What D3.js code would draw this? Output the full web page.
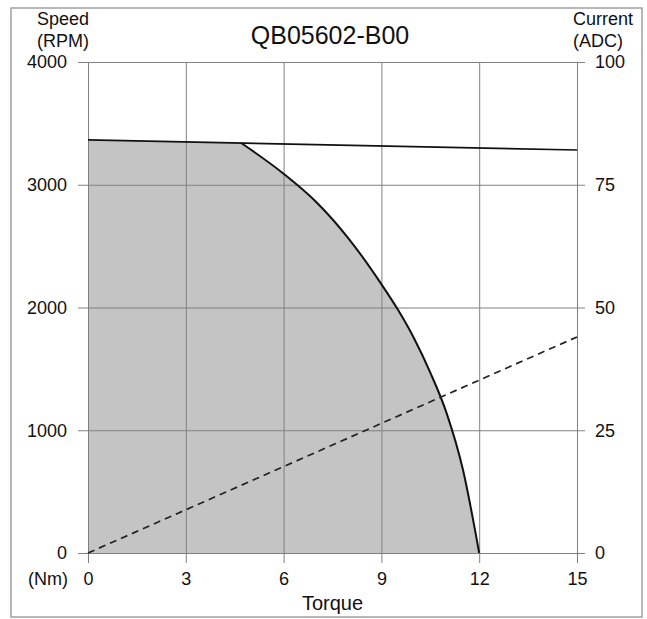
<!DOCTYPE html>
<html>
<head>
<meta charset="utf-8">
<script src="https://cdn.jsdelivr.net/npm/d3@7"></script>
<style>
  body { margin: 0; background: #fff; }
  svg { display: block; font-family: "Liberation Sans", Arial, sans-serif; }
  .grid line, .grid path { stroke: #808080; stroke-width: 1; }
  .grid text { font-size: 18px; fill: #111; }
</style>
</head>
<body>
<svg id="chart" width="647" height="619"></svg>
<script>
// axis ticks
const torqueTicks = [0, 3, 6, 9, 12, 15];
const speedTicks = [0, 1000, 2000, 3000, 4000];
const currentTicks = [0, 25, 50, 75, 100];

// no-load speed line (torque Nm, speed RPM)
const noLoadTorque = [0, 15];
const noLoadSpeed = [3365, 3283];

// intermittent limit curve, from the knee down to stall
const limitTorque = [4.7, 6.0, 7.0, 8.0, 9.0, 9.5, 10.0, 10.5, 11.0, 11.5, 12.0];
const limitSpeed = [3340, 3090, 2860, 2560, 2190, 1985, 1750, 1470, 1140, 680, 0];

// current vs torque (ADC)
const currentTorque = [0, 15];
const currentValues = [0, 44];

const padding = { top: 62, left: 88, bottom: 66, right: 70 };
const width = 647;
const height = 619;
const canvasWidth = width - padding.left - padding.right;
const canvasHeight = height - padding.top - padding.bottom;

const svg = d3.select('#chart');

// outer frame
svg.append('rect')
  .attr('x', 11).attr('y', 8)
  .attr('width', 631).attr('height', 609)
  .attr('fill', 'none')
  .attr('stroke', '#a0a0a0')
  .attr('stroke-width', 1.5);

const canvas = svg.append('g').attr('transform', `translate(${padding.left},${padding.top})`);

const xScale = d3.scaleLinear().domain([0, 15]).range([0, canvasWidth]);
const ySpeed = d3.scaleLinear().domain([0, 4000]).range([canvasHeight, 0]);
const yCurrent = d3.scaleLinear().domain([0, 100]).range([canvasHeight, 0]);

// shaded operating region: no-load line up to the knee, then the limit curve
const noLoadAt = t => noLoadSpeed[0] + (noLoadSpeed[1] - noLoadSpeed[0]) * (t - noLoadTorque[0]) / (noLoadTorque[1] - noLoadTorque[0]);
const limitPts = limitTorque.map((t, i) => [xScale(t), ySpeed(limitSpeed[i])]);
const limitLine = d3.line().curve(d3.curveMonotoneX);
const curvePath = limitLine(limitPts);

const fillPath =
  `M${xScale(0)},${ySpeed(0)}` +
  `L${xScale(0)},${ySpeed(noLoadAt(0))}` +
  `L${limitPts[0][0]},${limitPts[0][1]}` +
  curvePath.replace(/^M[^CL]*/, '') +
  `L${xScale(0)},${ySpeed(0)}Z`;

canvas.append('path')
  .attr('d', fillPath)
  .attr('fill', '#c4c4c4');

// grid + axes
const fmt = d3.format('d');
const xAxis = d3.axisBottom(xScale).tickValues(torqueTicks).tickFormat(fmt).tickSize(-canvasHeight).tickSizeOuter(0).tickPadding(19);
const yAxis = d3.axisLeft(ySpeed).tickValues(speedTicks).tickFormat(fmt).tickSize(-canvasWidth).tickSizeOuter(0).tickPadding(21);
const y2Axis = d3.axisRight(yCurrent).tickValues(currentTicks).tickFormat(fmt).tickSize(8).tickSizeOuter(0).tickPadding(10);

const xAxisDOM = canvas.append('g').attr('class', 'grid')
  .attr('transform', `translate(0,${canvasHeight})`)
  .call(xAxis);
xAxisDOM.selectAll('.tick line').attr('y1', 10);

const yAxisDOM = canvas.append('g').attr('class', 'grid').call(yAxis);
yAxisDOM.selectAll('.tick line').attr('x1', -10);

canvas.append('g').attr('class', 'grid')
  .attr('transform', `translate(${canvasWidth},0)`)
  .call(y2Axis);

canvas.selectAll('.grid').attr('font-family', null).attr('font-size', null);

// curves
const line = d3.line();
canvas.append('path')
  .attr('d', line(noLoadTorque.map((t, i) => [xScale(t), ySpeed(noLoadSpeed[i])])))
  .attr('fill', 'none')
  .attr('stroke', '#111')
  .attr('stroke-width', 1.7);

canvas.append('path')
  .attr('d', curvePath)
  .attr('fill', 'none')
  .attr('stroke', '#111')
  .attr('stroke-width', 2);

canvas.append('path')
  .attr('d', line(currentTorque.map((t, i) => [xScale(t), yCurrent(currentValues[i])])))
  .attr('fill', 'none')
  .attr('stroke', '#222')
  .attr('stroke-width', 1.7)
  .attr('stroke-dasharray', '7,5');

// titles and axis names
svg.append('text')
  .attr('x', 330).attr('y', 44)
  .attr('text-anchor', 'middle')
  .attr('font-size', 25)
  .attr('fill', '#111')
  .text('QB05602-B00');

const label = (x, y, txt, anchor, size) => svg.append('text')
  .attr('x', x).attr('y', y)
  .attr('text-anchor', anchor)
  .attr('font-size', size)
  .attr('fill', '#111')
  .text(txt);

label(63, 25, 'Speed', 'middle', 18);
label(63, 47, '(RPM)', 'middle', 18);
label(573, 25, 'Current', 'start', 18);
label(573, 47, '(ADC)', 'start', 18);
label(68, 585, '(Nm)', 'end', 18);
label(xScale(7.5) + padding.left, 610, 'Torque', 'middle', 20);
</script>
</body>
</html>
